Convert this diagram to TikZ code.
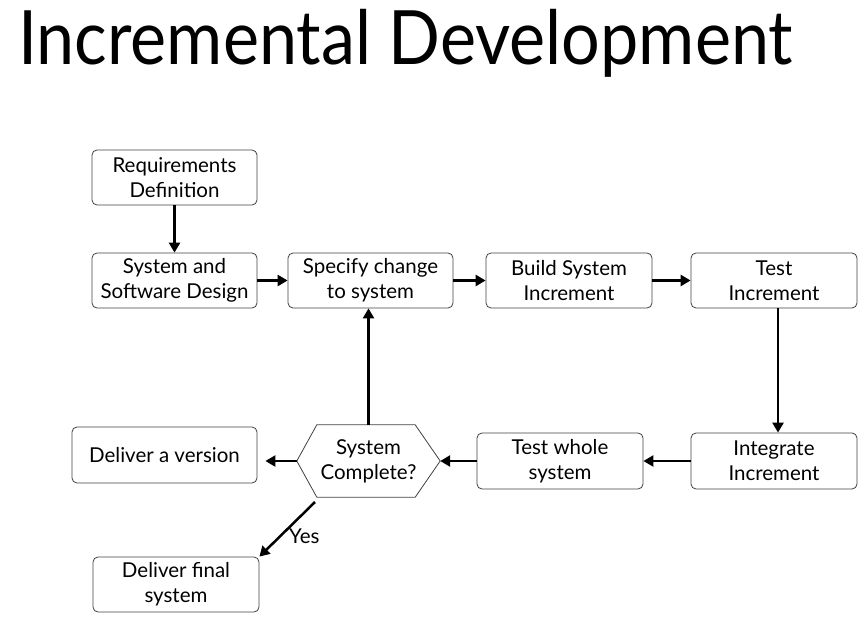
\documentclass[tikz,border=0pt]{standalone}
\usepackage{fontspec}
\setmainfont{Lato}
\newfontfamily\titlefont[FakeStretch=0.91]{Lato}
\usetikzlibrary{arrows.meta}
\begin{document}
\begin{tikzpicture}[x=1pt,y=-1pt,
  box/.style={draw=black!75, line width=0.8pt, rounded corners=5pt, minimum width=165pt, minimum height=55pt, align=center, font=\fontsize{20.5}{25}\selectfont, inner sep=0pt},
  arr/.style={line width=2.5pt, -{Triangle[length=10pt,width=11pt]}},
  lbl/.style={font=\fontsize{20.5}{25}\selectfont, inner sep=0pt}]
\useasboundingbox (0,0) rectangle (867,639);
\node[anchor=base west, font=\titlefont\fontsize{75}{80}\selectfont, inner sep=0pt] (title) at (18,65) {Incremental Development};
\node[box] (req) at (174.5,177.5) {Requirements\\Definition};
\node[box] (sys) at (174.5,280.5) {System and\\Software Design};
\node[box] (spec) at (370.5,280.5) {Specify change\\to system};
\node[box, minimum width=166pt] (build) at (569,280.5) {Build System\\Increment};
\node[box, minimum width=166pt] (testinc) at (774,280.5) {Test\\Increment};
\node[box, minimum width=166pt, minimum height=56pt] (integ) at (774,461) {Integrate\\Increment};
\node[box, minimum width=166pt, minimum height=56pt] (whole) at (560,461) {Test whole\\system};
\node[lbl, align=center, minimum width=143pt, minimum height=72pt] (hex) at (368.5,461) {System\\Complete?};
\draw[draw=black!75, line width=0.8pt] (hex.west) -- ([xshift=20pt]hex.north west) -- ([xshift=-25pt]hex.north east) -- (hex.east) -- ([xshift=-25pt]hex.south east) -- ([xshift=20pt]hex.south west) -- cycle;
\node[box, minimum width=185pt, minimum height=56pt] (dv) at (164.5,455) {Deliver a version};
\node[box, minimum width=166pt] (df) at (176,584.5) {Deliver final\\system};
\draw[arr] (req) -- (sys);
\draw[arr] (sys) -- (spec);
\draw[arr] (spec) -- (build);
\draw[arr] (build) -- (testinc);
\draw[arr] (testinc.south -| 778,0) -- (integ.north -| 778,0);
\draw[arr] (integ) -- (whole);
\draw[arr] (whole.west) -- (hex.east);
\draw[arr] (hex.north) -- (hex.north |- spec.south);
\coordinate (dvend) at ([xshift=8pt]dv.east |- hex.west);
\draw[arr] (hex.west) -- (dvend);
\coordinate (ys) at (315,502);
\draw[arr] (ys) -- (df.north east);
\node[lbl, anchor=base west] (yes) at (289,543) {Yes};
\end{tikzpicture}
\end{document}
